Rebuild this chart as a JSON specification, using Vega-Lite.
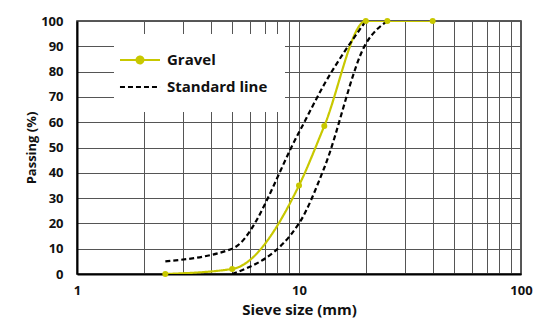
{
  "$schema": "https://vega.github.io/schema/vega-lite/v6.json",
  "width": 444,
  "height": 253,
  "autosize": {"type": "none"},
  "padding": {"left": 77, "top": 21, "right": 29, "bottom": 53},
  "background": "white",
  "config": {
    "font": "Open Sans",
    "view": {"stroke": "#222222", "strokeWidth": 1.5},
    "axis": {
      "labelFont": "Open Sans", "labelFontWeight": "bold", "labelFontSize": 13, "labelColor": "#111111",
      "titleFont": "Open Sans", "titleFontWeight": "bold", "titleFontSize": 13, "titleColor": "#111111",
      "gridColor": "#555555", "gridWidth": 1, "gridOpacity": 1,
      "domainColor": "#000000", "domainWidth": 2, "ticks": false
    },
    "legend": {"labelFont": "Open Sans", "labelFontWeight": "bold", "labelFontSize": 15, "labelColor": "#111111"}
  },
  "data": {
    "values": [
      {"series": "Gravel", "line": "Gravel", "size": 2.5, "passing": 0},
      {"series": "Gravel", "line": "Gravel", "size": 5, "passing": 2},
      {"series": "Gravel", "line": "Gravel", "size": 10, "passing": 35},
      {"series": "Gravel", "line": "Gravel", "size": 13, "passing": 58.5},
      {"series": "Gravel", "line": "Gravel", "size": 20, "passing": 100},
      {"series": "Gravel", "line": "Gravel", "size": 25, "passing": 100},
      {"series": "Gravel", "line": "Gravel", "size": 40, "passing": 100},
      {"series": "Standard line", "line": "Upper", "size": 2.5, "passing": 5},
      {"series": "Standard line", "line": "Upper", "size": 5, "passing": 10},
      {"series": "Standard line", "line": "Upper", "size": 10, "passing": 56},
      {"series": "Standard line", "line": "Upper", "size": 13, "passing": 75},
      {"series": "Standard line", "line": "Upper", "size": 20, "passing": 100},
      {"series": "Standard line", "line": "Lower", "size": 5, "passing": 0},
      {"series": "Standard line", "line": "Lower", "size": 10, "passing": 20},
      {"series": "Standard line", "line": "Lower", "size": 13, "passing": 42},
      {"series": "Standard line", "line": "Lower", "size": 20, "passing": 91},
      {"series": "Standard line", "line": "Lower", "size": 25, "passing": 100}
    ]
  },
  "encoding": {
    "x": {
      "field": "size", "type": "quantitative",
      "scale": {"type": "log", "domain": [1, 100], "nice": false},
      "axis": {
        "title": "Sieve size (mm)", "titlePadding": 5, "titleFontSize": 15,
        "values": [1, 2, 3, 4, 5, 6, 7, 8, 9, 10, 20, 30, 40, 50, 60, 70, 80, 90, 100],
        "labelExpr": "datum.value == 1 || datum.value == 10 || datum.value == 100 ? datum.value + '' : ''",
        "labelPadding": 10, "labelFlush": false, "labelOverlap": false
      }
    },
    "y": {
      "field": "passing", "type": "quantitative",
      "scale": {"domain": [0, 100], "nice": false},
      "axis": {"title": "Passing (%)", "values": [0, 10, 20, 30, 40, 50, 60, 70, 80, 90, 100], "labelPadding": 14, "titlePadding": 2}
    }
  },
  "layer": [
    {
      "mark": {"type": "line", "interpolate": "monotone", "strokeWidth": 2.2, "clip": true},
      "encoding": {
        "detail": {"field": "line"},
        "color": {
          "field": "series", "type": "nominal",
          "scale": {"domain": ["Gravel", "Standard line"], "range": ["#c8c800", "#000000"]},
          "legend": {
            "title": null, "orient": "none", "legendX": 37, "legendY": 13,
            "fillColor": "white", "padding": 17, "rowPadding": 10,
            "symbolSize": 225, "symbolStrokeWidth": 2.2, "labelOffset": 18,
            "encode": {
              "symbols": {
                "update": {
                  "shape": {"signal": "datum.value === 'Gravel' ? 'M-2.67,0L2.67,0M0.45,0A0.45,0.45 0 1,1 -0.45,0A0.45,0.45 0 1,1 0.45,0' : 'M-2.67,0L2.67,0'"},
                  "fill": {"signal": "datum.value === 'Gravel' ? '#c8c800' : 'transparent'"}
                }
              }
            }
          }
        },
        "strokeDash": {
          "field": "series", "type": "nominal",
          "scale": {"domain": ["Gravel", "Standard line"], "range": [[1, 0], [5, 3]]},
          "legend": {"title": null, "orient": "none", "legendX": 37, "legendY": 13, "symbolSize": 225}
        }
      }
    },
    {
      "transform": [{"filter": "datum.series === 'Gravel'"}],
      "mark": {"type": "point", "filled": true, "size": 36, "opacity": 1, "color": "#c8c800"}
    }
  ]
}
